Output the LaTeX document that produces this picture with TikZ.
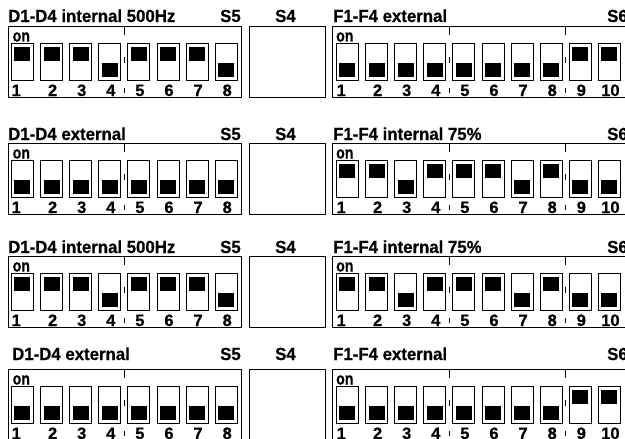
\documentclass[tikz,border=0pt]{standalone}
\usepackage{fontspec}
\usepackage{graphicx}
\setmainfont{Liberation Sans}[BoldFeatures={FakeBold=0.6}]
\tikzset{
  panel/.style={draw, line width=0.9pt, inner sep=0pt, anchor=north west},
  swbox/.style={draw, line width=0.8pt, inner sep=0pt, minimum width=22pt, minimum height=37pt, anchor=north west},
  knob/.style={fill=black, inner sep=0pt, minimum width=16pt, minimum height=14pt},
  ttl/.style={font=\bfseries\fontsize{17.5}{19}\selectfont, inner sep=0pt, anchor=base west},
  onlbl/.style={font=\bfseries\fontsize{17}{18}\selectfont, inner sep=0pt, anchor=base west},
  numlbl/.style={font=\bfseries\fontsize{16.5}{18}\selectfont, inner sep=0pt},
  tick/.style={line width=0.8pt},
}
\newcommand\tx[1]{\scalebox{0.96}[1]{#1}}
\newcommand\dipsw[4]{%
  \foreach \s [count=\i] in {#4} {
    \pgfmathsetmacro\xl{#2+29.1*(\i-1)}
    \node[swbox] (#1s\i) at (\xl,#3+17) {};
    \ifnum\s=1
      \node[knob, anchor=north] (#1k\i) at ([yshift=-3.5pt]#1s\i.north) {};
    \else
      \node[knob, anchor=south] (#1k\i) at ([yshift=3.5pt]#1s\i.south) {};
    \fi
    \ifnum\i=1
      \node[numlbl, anchor=base west] (#1n\i) at (\xl+0.5,#3+70) {\i};
    \else
      \node[numlbl, anchor=base] (#1n\i) at (\xl+12.5,#3+70) {\i};
    \fi
  }%
}
\newcommand\diprow[8]{%
  \node[ttl] (dt#1) at (#4,#3) {\tx{#5}};
  \node[ttl] (sfive#1) at (220,#3) {\tx{S5}};
  \node[ttl] (sfour#1) at (275,#3) {\tx{S4}};
  \node[ttl] (ft#1) at (333,#3) {\tx{#6}};
  \node[ttl] (ssix#1) at (607,#3) {\tx{S6}};
  \node[panel, minimum width=233.5pt, minimum height=71pt] (db#1) at (7.5,#2) {};
  \node[panel, minimum width=76pt, minimum height=71pt] (sb#1) at (249,#2) {};
  \node[panel, minimum width=320pt, minimum height=71pt] (fb#1) at (332,#2) {};
  \node[onlbl] (don#1) at (12.5,#2+15.5) {\scalebox{0.83}[1]{on}};
  \node[onlbl] (fon#1) at (336,#2+15.5) {\scalebox{0.83}[1]{on}};
  \foreach \x in {124,449,565} {
    \draw[tick] (\x,#2) -- (\x,#2+9);
    \draw[tick] (\x,#2+31) -- (\x,#2+37);
    \draw[tick] (\x,#2+62) -- (\x,#2+67);
  }
  \dipsw{d#1}{11}{#2}{#7}
  \dipsw{f#1}{336}{#2}{#8}
}
\begin{document}
\begin{tikzpicture}[x=1pt,y=-1pt]
  \useasboundingbox (0,0) rectangle (625,439);
  \clip (0,0) rectangle (625,439);
  \fill[white] (0,0) rectangle (625,439);
  \diprow{a}{26}{22}{8}{D1-D4 internal 500Hz}{F1-F4 external}{1,1,1,0,1,1,1,0}{0,0,0,0,0,0,0,0,1,1}
  \diprow{b}{143}{140}{8}{D1-D4 external}{F1-F4 internal 75\%}{0,0,0,0,0,0,0,0}{1,1,0,1,1,1,0,1,0,0}
  \diprow{c}{256}{253}{8}{D1-D4 internal 500Hz}{F1-F4 internal 75\%}{1,1,1,0,1,1,1,0}{1,1,0,1,1,1,0,1,0,0}
  \diprow{e}{369}{360}{12}{D1-D4 external}{F1-F4 external}{0,0,0,0,0,0,0,0}{0,0,0,0,0,0,0,0,1,1}
\end{tikzpicture}
\end{document}
